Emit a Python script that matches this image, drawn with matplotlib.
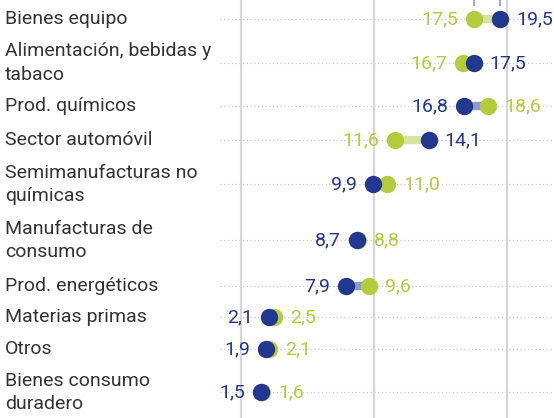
import matplotlib
matplotlib.use("Agg")
import matplotlib.pyplot as plt
from matplotlib.transforms import blended_transform_factory

categories = ["Bienes equipo", "Alimentación, bebidas y\ntabaco", "Prod. químicos",
              "Sector automóvil", "Semimanufacturas no\nquímicas", "Manufacturas de\nconsumo",
              "Prod. energéticos", "Materias primas", "Otros", "Bienes consumo\nduradero"]
green_vals = [17.5, 16.7, 18.6, 11.6, 11.0, 8.8, 9.6, 2.5, 2.1, 1.6]
blue_vals = [19.5, 17.5, 16.8, 14.1, 9.9, 8.7, 7.9, 2.1, 1.9, 1.5]
grid_ticks = [0, 10, 20]

# layout (pixel rows)
row_y = [19, 63, 106, 140, 184, 240, 286, 317, 349, 392]

GREEN = "#b4cc3c"
BLUE = "#22378f"
GREEN_L = "#d6e3a0"
BLUE_L = "#8e98cc"

plt.rcParams['font.family'] = ['Roboto', 'DejaVu Sans']
fig = plt.figure(figsize=(5.54, 4.18), dpi=100)
ax = fig.add_axes([0, 0, 1, 1])
ax.set_xlim(-18.12, 23.53)
ax.set_ylim(418, 0)
ax.axis('off')

for g in grid_ticks:
    ax.axvline(g, color="#d6d6d6", lw=1.6, zorder=1)

xf = blended_transform_factory(ax.transAxes, ax.transData)
for y in row_y:
    ax.plot([220 / 554, 1], [y, y], transform=xf, color="#c8c8c8", lw=0.9,
            linestyle=(0, (1, 2)), zorder=0)

# remnants of legend at top
ax.vlines([green_vals[0], blue_vals[0]], 0, 6, color="#999999", lw=1.2, zorder=1)

FS = 14
for cat, g, b, y in zip(categories, green_vals, blue_vals, row_y):
    lines = cat.split("\n")
    if len(lines) == 1:
        ax.text(5 / 554, y, cat, transform=xf, ha='left', va='center',
                fontsize=FS, color="#333333")
    else:
        ax.text(5 / 554, y - 11.5, lines[0], transform=xf, ha='left', va='center',
                fontsize=FS, color="#333333")
        ax.text(5 / 554, y + 12, lines[1], transform=xf, ha='left', va='center',
                fontsize=FS, color="#333333")
    lo_col = BLUE_L if b < g else GREEN_L
    ax.plot([min(g, b), max(g, b)], [y, y], color=lo_col, lw=6, solid_capstyle='butt', zorder=2)
    ax.plot([g], [y], 'o', ms=12.5, color=GREEN, mec='none', zorder=3)
    ax.plot([b], [y], 'o', ms=12.5, color=BLUE, mec='none', zorder=4)
    for v, col, other in ((g, GREEN, b), (b, BLUE, g)):
        right = v > other or (v == other and col == GREEN)
        off = 16 if right else -16
        ax.annotate(f"{v:.1f}".replace(".", ","), (v, y), xytext=(off, 0),
                    textcoords='offset pixels', ha='left' if right else 'right',
                    va='center', fontsize=FS, color=col, zorder=5)

fig.savefig("out.png", dpi=100)
